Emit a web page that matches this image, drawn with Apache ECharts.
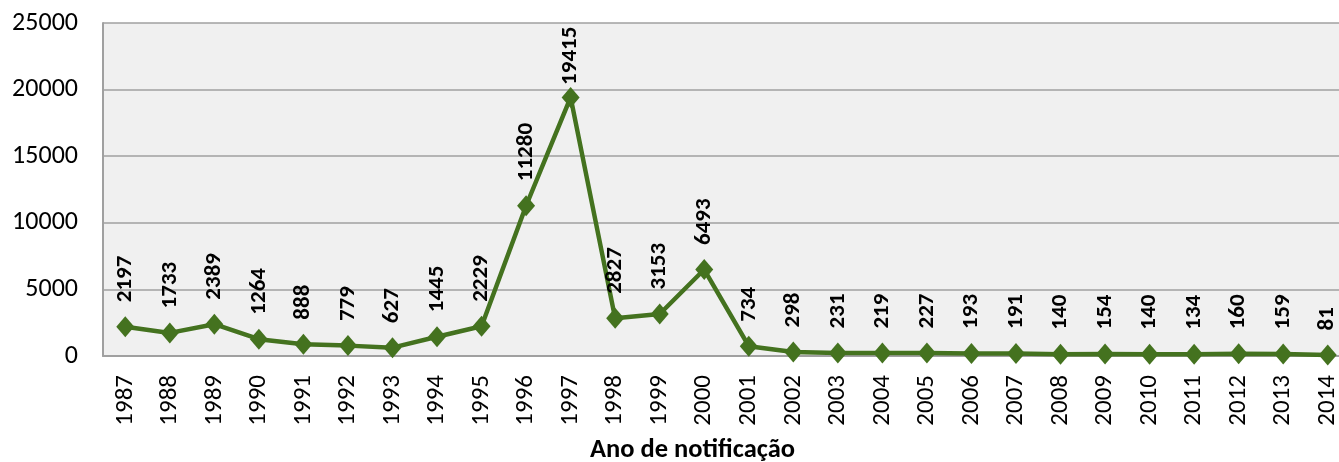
<!DOCTYPE html>
<html>
<head>
	<meta charset="UTF-8">
	<title>notificacao</title>
	<style>
		html,body{margin:0;padding:0;background:#fff;}
		#mychart{width:1339px;height:462px;}
	</style>
</head>
<body>
<div id="mychart"></div>
<script type="text/javascript" src="https://cdn.jsdelivr.net/npm/echarts@6/dist/echarts.min.js"></script>
<script type="text/javascript">
	var anos = ['1987','1988','1989','1990','1991','1992','1993','1994','1995','1996','1997','1998','1999','2000',
	            '2001','2002','2003','2004','2005','2006','2007','2008','2009','2010','2011','2012','2013','2014'];
	var casos = [2197,1733,2389,1264,888,779,627,1445,2229,11280,19415,2827,3153,6493,
	             734,298,231,219,227,193,191,140,154,140,134,160,159,81];
	var yTicks = [0,5000,10000,15000,20000,25000];

	var fonte = 'Carlito, Lato, "Open Sans", sans-serif';
	var verde = '#44721f';
	var maximo = Math.max.apply(null, casos);

	// o rotulo do pico fica mais perto do ponto (como no original)
	var pontos = casos.map(function(v){
		if (v === maximo) {
			return { value: v, label: { distance: 2 } };
		}
		return v;
	});

	var myChart = echarts.init(document.getElementById('mychart'));
	var option = {
		animation: false,
		textStyle: { fontFamily: fonte },
		grid: {
			left: 103,
			top: 23,
			width: 1247,
			height: 333,
			outerBoundsMode: 'none',
			containLabel: false,
			show: true,
			backgroundColor: '#f0f0f0',
			borderWidth: 0
		},
		xAxis: {
			type: 'category',
			data: anos,
			boundaryGap: true,
			name: 'Ano de notificação',
			nameLocation: 'middle',
			nameGap: 81,
			nameTextStyle: {
				fontSize: 26.5, fontWeight: 'bold', color: '#000', fontFamily: fonte,
				padding: [0, 68, 0, 0]   // titulo centrado um pouco a esquerda do eixo
			},
			axisLine: { lineStyle: { color: '#a0a0a0', width: 2 } },
			axisTick: { show: false },
			axisLabel: { rotate: 90, fontSize: 25, color: '#000', margin: 19, fontFamily: fonte }
		},
		yAxis: {
			type: 'value',
			min: yTicks[0],
			max: yTicks[yTicks.length - 1],
			interval: 5000,
			axisLine: { show: true, lineStyle: { color: '#a0a0a0', width: 2 } },
			axisTick: { show: false },
			axisLabel: {
				fontSize: 26, color: '#000', margin: 25, fontFamily: fonte,
				formatter: function(v){ return String(v); }
			},
			splitLine: { lineStyle: { color: '#a0a0a0', width: 1.5 } }
		},
		series: [{
			type: 'line',
			data: pontos,
			symbol: 'diamond',
			symbolSize: [18, 21],
			lineStyle: { color: verde, width: 4.5 },
			itemStyle: { color: verde },
			label: {
				show: true,
				position: 'top',
				rotate: 90,
				align: 'left',
				verticalAlign: 'middle',
				distance: 14,
				fontSize: 23,
				fontWeight: 'bold',
				color: '#000',
				fontFamily: fonte
			}
		}]
	};
	myChart.setOption(option);
</script>
</body>
</html>
